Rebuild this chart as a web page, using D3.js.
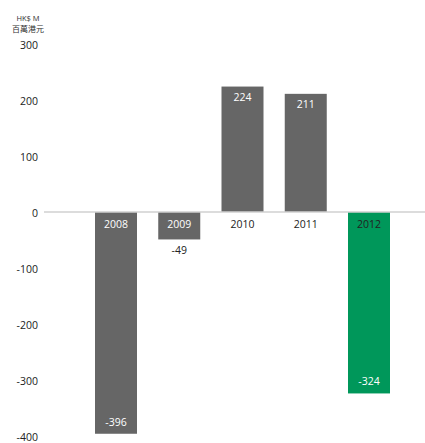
<!DOCTYPE html>
<html>
<head>
<meta charset="utf-8">
<script src="https://cdn.jsdelivr.net/npm/d3@7"></script>
<style>
  body { margin: 0; background: #fff; }
  text { font-family: "Open Sans", "Noto Sans", sans-serif; }
</style>
</head>
<body>
<div id="chart"></div>
<script>
// data
const years = ["2008", "2009", "2010", "2011", "2012"];
const values = [-396, -49, 224, 211, -324];
const barColors = ["#666666", "#666666", "#666666", "#666666", "#00975a"];
const yearTextColors = ["#ffffff", "#ffffff", "#222222", "#222222", "#222222"];
const yTicks = [300, 200, 100, 0, -100, -200, -300, -400];

const width = 425, height = 443;

const svg = d3.select("#chart").append("svg")
  .attr("width", width)
  .attr("height", height);

let y = d3.scaleLinear()
  .domain([-400, 300])
  .range([436, 44]);

let x = d3.scaleBand()
  .domain(years)
  .range([73.75, 411.25])
  .paddingInner(0.336)
  .paddingOuter(0.336);

// unit header
svg.append("text")
  .attr("x", 28).attr("y", 21)
  .attr("text-anchor", "middle")
  .attr("font-size", 7.5)
  .attr("fill", "#333")
  .text("HK$ M");
svg.append("text")
  .attr("x", 28).attr("y", 32)
  .attr("text-anchor", "middle")
  .attr("font-size", 8)
  .attr("fill", "#333")
  .style("font-family", "'Noto Sans CJK TC', sans-serif")
  .text("百萬港元");

// y tick labels
svg.append("g")
  .selectAll("text")
  .data(yTicks)
  .enter()
  .append("text")
    .attr("x", 38)
    .attr("y", d => y(d) + 2)
    .attr("text-anchor", "end")
    .attr("dominant-baseline", "middle")
    .attr("font-size", 10.5)
    .attr("fill", "#222")
    .text(d => d);

// bars
svg.append("g")
  .selectAll("rect")
  .data(values)
  .enter()
  .append("rect")
    .attr("x", (d, i) => x(years[i]))
    .attr("y", d => y(Math.max(0, d)))
    .attr("width", x.bandwidth())
    .attr("height", d => Math.abs(y(d) - y(0)))
    .attr("fill", (d, i) => barColors[i]);

// zero line
svg.append("line")
  .attr("x1", 44).attr("x2", width)
  .attr("y1", y(0)).attr("y2", y(0))
  .attr("stroke", "#d0d0d0")
  .attr("stroke-width", 1.5);

// year labels just below the zero line
svg.append("g")
  .selectAll("text")
  .data(years)
  .enter()
  .append("text")
    .attr("x", d => x(d) + x.bandwidth() / 2)
    .attr("y", y(0) + 16)
    .attr("text-anchor", "middle")
    .attr("font-size", 10.5)
    .attr("fill", (d, i) => yearTextColors[i])
    .text(d => d);

// value labels
svg.append("g")
  .selectAll("text")
  .data(values)
  .enter()
  .append("text")
    .attr("x", (d, i) => x(years[i]) + x.bandwidth() / 2)
    .attr("y", d => {
      if (d > 0) return y(d) + 14;
      if (Math.abs(y(d) - y(0)) < 40) return y(d) + 15;
      return y(d) - 8;
    })
    .attr("text-anchor", "middle")
    .attr("font-size", 10.5)
    .attr("fill", d => (d < 0 && Math.abs(y(d) - y(0)) < 40) ? "#222" : "#ffffff")
    .text(d => d);
</script>
</body>
</html>
